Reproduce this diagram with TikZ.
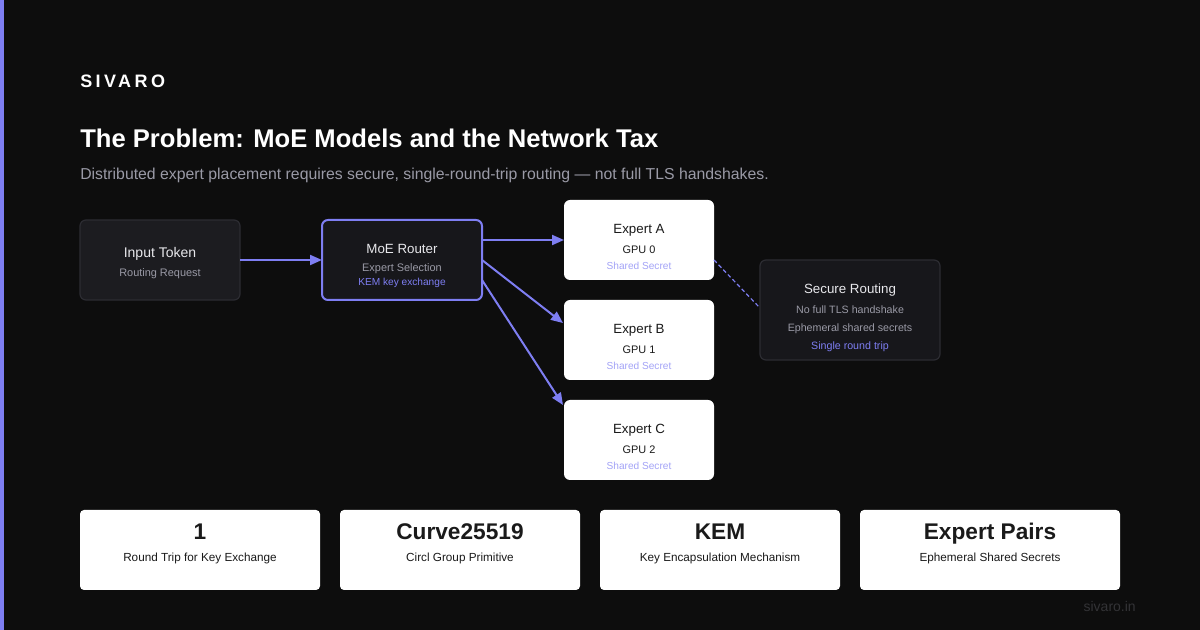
\documentclass[tikz,border=0pt]{standalone}
\usepackage{fontspec}
\setmainfont{Liberation Sans}
\usetikzlibrary{arrows.meta,calc}
\definecolor{bg}{HTML}{0D0D0D}
\definecolor{accent}{HTML}{7E7EF2}
\definecolor{accentlt}{HTML}{A3A3F7}
\definecolor{darkfill}{HTML}{1C1C20}
\definecolor{darkfill2}{HTML}{17171B}
\definecolor{darkline}{HTML}{2C2C32}
\definecolor{greytxt}{HTML}{9A9AA6}
\definecolor{softwhite}{HTML}{E8E8EC}
\definecolor{inktxt}{HTML}{1A1A1A}
\definecolor{foot}{HTML}{333336}
\newcommand{\fs}[1]{\fontsize{#1}{#1}\selectfont}
\tikzset{
  darkbox/.style={draw=darkline, fill=darkfill, line width=0.9pt, rounded corners=4.5pt, inner sep=0pt, outer sep=0pt},
  routerbox/.style={draw=accent, fill=darkfill2, line width=1.5pt, rounded corners=4.5pt, inner sep=0pt, outer sep=0pt},
  whitebox/.style={fill=white, rounded corners=4.5pt, inner sep=0pt, outer sep=0pt},
  statbox/.style={fill=white, rounded corners=3pt, inner sep=0pt, outer sep=0pt},
  lbl/.style={anchor=base, inner sep=0pt},
  arr/.style={draw=accent, line width=1.5pt, -{Triangle[length=9pt,width=7.5pt]}},
  dashlink/.style={draw=accent, line width=0.9pt, dash pattern=on 3pt off 2pt},
}
\begin{document}
\begin{tikzpicture}[x=0.75pt,y=-0.75pt]
\fill[bg] (0,0) rectangle (1200,630);
\useasboundingbox (0,0) rectangle (1200,630);
\fill[accent] (0,0) rectangle (4,630);

% header
\node[lbl, anchor=base west, text=white] (brand) at (80,88) {\fs{13.5}\addfontfeature{LetterSpace=19}\bfseries SIVARO};
\node[lbl, anchor=base west, text=white] (title) at (80,148) {\fs{19.2}\bfseries The Problem: MoE Models and the Network Tax};
\node[lbl, anchor=base west, text=greytxt] (sub) at (80,180) {\fs{11.85}Distributed expert placement requires secure, single-round-trip routing — not full TLS handshakes.};

% input token
\node[darkbox, minimum width=120pt, minimum height=60pt] (inp) at (160,260) {};
\node[lbl, text=softwhite] (inpt) at (160,258) {\fs{10.5}Input Token};
\node[lbl, text=greytxt] (inps) at (160,277) {\fs{8.2}Routing Request};

% router
\node[routerbox, minimum width=120pt, minimum height=60pt] (rt) at (402,260) {};
\node[lbl, text=softwhite] (rtt) at (402,254) {\fs{10}MoE Router};
\node[lbl, text=greytxt] (rts) at (402,272) {\fs{8.2}Expert Selection};
\node[lbl, text=accent] (rtk) at (402,286) {\fs{7.6}KEM key exchange};

% experts
\foreach \n/\g/\y in {A/0/240,B/1/340,C/2/440}{
  \node[whitebox, minimum width=112.5pt, minimum height=60pt] (ex\n) at (639,\y) {};
  \node[lbl, text=inktxt] (ex\n t) at (639,\y-6) {\fs{10}Expert \n};
  \node[lbl, text=inktxt] (ex\n g) at (639,\y+14) {\fs{8.2}GPU \g};
  \node[lbl, text=accentlt] (ex\n s) at (639,\y+30) {\fs{7.6}Shared Secret};
}

% secure routing
\node[darkbox, fill=darkfill2, minimum width=135pt, minimum height=75pt] (sec) at (850,310) {};
\node[lbl, text=softwhite] (sect) at (850,294) {\fs{10}Secure Routing};
\node[lbl, text=greytxt] (sec1) at (850,314) {\fs{8}No full TLS handshake};
\node[lbl, text=greytxt] (sec2) at (850,332) {\fs{8}Ephemeral shared secrets};
\node[lbl, text=accent] (sec3) at (850,350) {\fs{8}Single round trip};

% connectors
\draw[arr] (inp.east) -- (rt.west);
\draw[arr] ($(rt.east)+(0,-20)$) -- (exA.west);
\draw[arr] (rt.east) -- ($(exB.north west)+(-1,23)$);
\draw[arr] ($(rt.east)+(0,20)$) -- ($(exC.north west)+(-1,5)$);
\draw[dashlink] ($(exA.east)+(0,20)$) -- ($(sec.west)+(0,-2)$);

% stats
\foreach \i/\x/\w/\big/\small in {1/200/180/1/Round Trip for Key Exchange, 2/460/180/Curve25519/Circl Group Primitive, 3/720/180/KEM/Key Encapsulation Mechanism, 4/990/195/Expert Pairs/Ephemeral Shared Secrets}{
  \node[statbox, minimum width=\w pt, minimum height=60pt] (st\i) at (\x,550) {};
  \node[lbl, text=inktxt] (st\i b) at (\x,540) {\fs{17}\bfseries\big};
  \node[lbl, text=inktxt] (st\i s) at (\x,562) {\fs{8.8}\small};
}

\node[lbl, anchor=base east, text=foot] (footer) at (1136,612) {\fs{10.5}sivaro.in};
\end{tikzpicture}
\end{document}
